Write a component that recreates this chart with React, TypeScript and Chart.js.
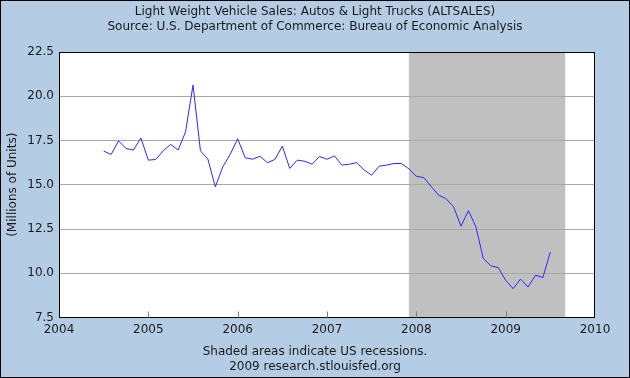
import React, { useEffect, useRef } from "react";
import { Chart, registerables } from "chart.js";

Chart.register(...registerables);

// Monthly series start (July 2004), one value per month
const startYear = 2004;
const startMonth = 7;

// Light weight vehicle sales, millions of units (SAAR), Jul 2004 – Jul 2009
const salesValues: number[] = [
  16.9, 16.71, 17.48, 17.05, 16.96, 17.64, 16.39, 16.43, 16.92, 17.28, 16.96, 17.99,
  20.63, 16.92, 16.45, 14.88, 16.01, 16.72, 17.6, 16.53, 16.44, 16.61, 16.25, 16.43,
  17.18, 15.92, 16.39, 16.33, 16.16, 16.6, 16.44, 16.63, 16.11, 16.16, 16.25, 15.83,
  15.54, 16.05, 16.11, 16.2, 16.2, 15.9, 15.48, 15.4, 14.9, 14.41, 14.21, 13.75,
  12.66, 13.54, 12.62, 10.83, 10.42, 10.32, 9.6, 9.13, 9.67, 9.22, 9.89, 9.76,
  11.2,
];

// Recession band (decimal years)
const recessionStart = 2007 + 11 / 12;
const recessionEnd = 2009 + 8 / 12;

// Axis ticks
const xTickYears = [2004, 2005, 2006, 2007, 2008, 2009, 2010];
const yTickValues = [7.5, 10, 12.5, 15, 17.5, 20, 22.5];

const titleLines = [
  "Light Weight Vehicle Sales: Autos & Light Trucks (ALTSALES)",
  "Source: U.S. Department of Commerce: Bureau of Economic Analysis",
];
const footerLines = ["Shaded areas indicate US recessions.", "2009 research.stlouisfed.org"];
const yAxisTitle = "(Millions of Units)";

const FONT = "'DejaVu Sans', Verdana, sans-serif";
const BG = "rgb(180,205,228)";
const TEXT = "#1a1a1a";

export default function App() {
  const ref = useRef<HTMLCanvasElement | null>(null);

  useEffect(() => {
    if (!ref.current) return;
    const points = salesValues.map((v, i) => ({
      x: startYear + (startMonth - 1 + i) / 12,
      y: v,
    }));

    const framePlugin = {
      id: "frame",
      beforeDraw(chart: any) {
        const { ctx, chartArea, scales } = chart;
        ctx.save();
        ctx.fillStyle = BG;
        ctx.fillRect(0, 0, chart.width, chart.height);
        ctx.fillStyle = "#ffffff";
        ctx.fillRect(chartArea.left, chartArea.top, chartArea.right - chartArea.left, chartArea.bottom - chartArea.top);
        const x0 = scales.x.getPixelForValue(recessionStart);
        const x1 = scales.x.getPixelForValue(recessionEnd);
        ctx.fillStyle = "#c0c0c0";
        ctx.fillRect(x0, chartArea.top, x1 - x0, chartArea.bottom - chartArea.top);
        ctx.restore();
      },
      afterDraw(chart: any) {
        const { ctx, chartArea, scales } = chart;
        ctx.save();
        ctx.strokeStyle = "#000000";
        ctx.lineWidth = 1;
        ctx.strokeRect(
          Math.round(chartArea.left) + 0.5,
          Math.round(chartArea.top) + 0.5,
          Math.round(chartArea.right - chartArea.left) - 1,
          Math.round(chartArea.bottom - chartArea.top) - 1
        );
        ctx.strokeStyle = "#808080";
        xTickYears.slice(1, -1).forEach((yr) => {
          const px = Math.round(scales.x.getPixelForValue(yr)) + 0.5;
          ctx.beginPath();
          ctx.moveTo(px, chartArea.bottom);
          ctx.lineTo(px, chartArea.bottom - 6);
          ctx.stroke();
        });
        ctx.strokeStyle = "#000000";
        ctx.strokeRect(0.5, 0.5, chart.width - 1, chart.height - 1);
        ctx.restore();
      },
    };

    const chart = new Chart(ref.current, {
      type: "line",
      data: {
        datasets: [
          {
            data: points,
            borderColor: "#2a2aff",
            borderWidth: 1,
            pointRadius: 0,
            tension: 0,
            fill: false,
          },
        ],
      },
      options: {
        animation: false,
        responsive: false,
        devicePixelRatio: 1,
        layout: { padding: 0 },
        plugins: {
          legend: { display: false },
          tooltip: { enabled: false },
          title: {
            display: true,
            text: titleLines,
            color: TEXT,
            font: { family: FONT, size: 12, weight: "normal", lineHeight: 1.25 },
            padding: { top: 4, bottom: 18 },
          },
          subtitle: {
            display: true,
            position: "bottom",
            text: footerLines,
            color: TEXT,
            font: { family: FONT, size: 12, weight: "normal", lineHeight: 1.25 },
            padding: { top: 0, bottom: 4 },
          },
        },
        scales: {
          x: {
            type: "linear",
            min: 2004,
            max: 2010,
            afterFit(scale: any) {
              scale.height = 26.5;
            },
            afterBuildTicks(scale: any) {
              scale.ticks = xTickYears.map((v) => ({ value: v }));
            },
            ticks: {
              color: TEXT,
              font: { family: FONT, size: 12 },
              padding: 5,
              maxRotation: 0,
              callback: (v: any) => String(v),
            },
            grid: { display: false, drawTicks: false },
            border: { display: false },
          },
          y: {
            type: "linear",
            min: 7.5,
            max: 22.5,
            afterFit(scale: any) {
              scale.width = 59;
            },
            afterBuildTicks(scale: any) {
              scale.ticks = yTickValues.map((v) => ({ value: v }));
            },
            ticks: {
              color: TEXT,
              font: { family: FONT, size: 12 },
              padding: 5,
              callback: (v: any) => Number(v).toFixed(1),
            },
            grid: { color: "#a8a8a8", lineWidth: 1, drawTicks: false },
            border: { display: false },
            title: {
              display: true,
              text: yAxisTitle,
              color: TEXT,
              font: { family: FONT, size: 12 },
              padding: { top: 6, bottom: 2 },
            },
          },
          yRight: {
            type: "linear",
            position: "right",
            min: 7.5,
            max: 22.5,
            display: true,
            afterFit(scale: any) {
              scale.width = 35;
            },
            ticks: { display: false },
            grid: { display: false, drawTicks: false },
            border: { display: false },
          },
        },
      },
      plugins: [framePlugin],
    });
    return () => chart.destroy();
  }, []);

  return (
    <div style={{ position: "absolute", left: 0, top: 0, width: 630, height: 378 }}>
      <canvas ref={ref} width={630} height={378} style={{ display: "block", width: 630, height: 378 }} />
    </div>
  );
}
